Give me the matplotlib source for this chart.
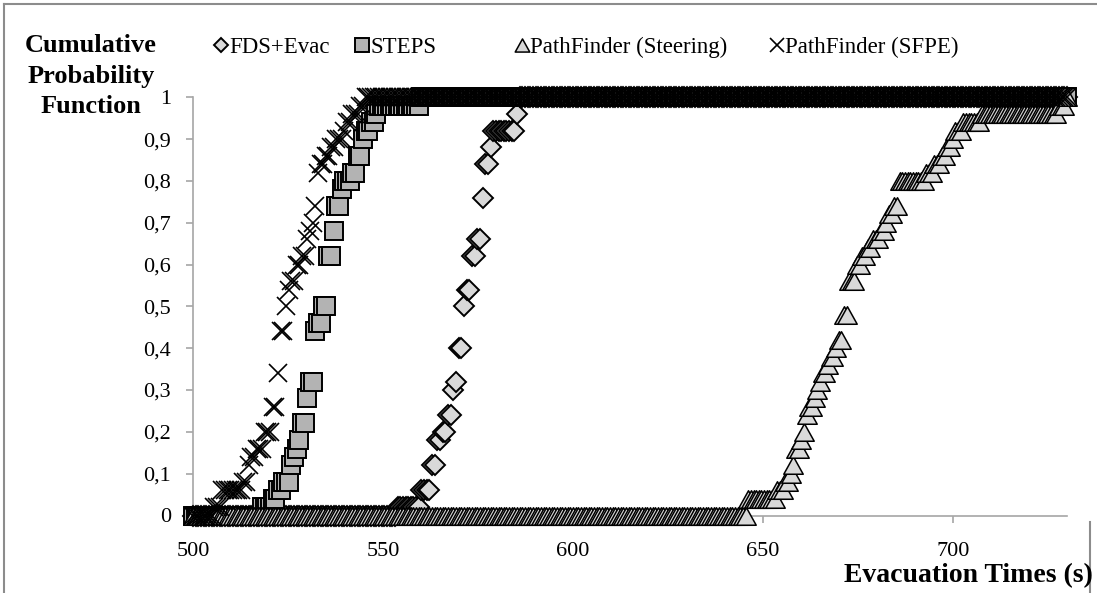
import numpy as np
import matplotlib.pyplot as plt
from matplotlib.path import Path
from matplotlib.lines import Line2D

plt.rcParams['font.family'] = ['Liberation Serif', 'DejaVu Serif']

# Values: the time (s) at which each curve steps up,
# and the cumulative probability it holds from that time on.
fds_t = [553.3, 559.8, 562.3, 564.0, 565.6, 566.6, 567.9, 568.7, 569.8, 570.9,
         571.8, 573.0, 574.5, 575.9, 576.8, 578.0, 578.5, 584.9, 585.6]
fds_p = [0.02, 0.06, 0.12, 0.18, 0.20, 0.24, 0.30, 0.32, 0.40, 0.50,
         0.54, 0.62, 0.66, 0.76, 0.84, 0.88, 0.92, 0.96, 1.00]

steps_t = [517.5, 520.3, 521.8, 523.3, 525.3, 526.3, 527.1, 527.6, 528.5, 529.4,
           530.3, 531.8, 532.7, 533.8, 535.3, 536.6, 537.7, 538.8, 539.7, 541.7,
           542.8, 544.5, 545.4, 546.3, 548.0, 548.9, 559.5]
steps_p = [0.02, 0.04, 0.06, 0.08, 0.12, 0.14, 0.16, 0.18, 0.22, 0.28,
           0.32, 0.44, 0.46, 0.50, 0.62, 0.68, 0.74, 0.78, 0.80, 0.82,
           0.86, 0.90, 0.92, 0.94, 0.96, 0.98, 1.00]

steer_t = [645.5, 653.3, 655.5, 656.8, 657.6, 658.6, 659.4, 660.2, 661.2, 662.1,
           663.0, 663.8, 664.7, 665.6, 666.5, 667.3, 668.6, 669.5, 670.8, 672.2,
           674.6, 675.9, 677.3, 678.5, 680.8, 681.8, 683.0, 684.3, 685.7, 692.7,
           694.4, 696.6, 698.4, 699.7, 700.6, 702.3, 707.6, 727.8, 729.9]
steer_p = [0.04, 0.06, 0.08, 0.10, 0.12, 0.16, 0.18, 0.20, 0.24, 0.26,
           0.28, 0.30, 0.32, 0.34, 0.36, 0.38, 0.40, 0.42, 0.48, 0.56,
           0.60, 0.62, 0.64, 0.66, 0.68, 0.70, 0.72, 0.74, 0.80, 0.82,
           0.84, 0.86, 0.88, 0.90, 0.92, 0.94, 0.96, 0.98, 1.00]

sfpe_t = [505.5, 507.0, 512.7, 514.0, 515.3, 516.6, 518.3, 520.8, 521.8, 522.8,
          523.8, 524.7, 525.6, 526.9, 528.2, 529.5, 530.4, 531.2, 531.8, 532.7,
          533.5, 534.3, 536.0, 537.4, 539.2, 540.5, 541.8, 543.5, 544.8]
sfpe_p = [0.02, 0.06, 0.08, 0.12, 0.14, 0.16, 0.20, 0.26, 0.34, 0.44,
          0.50, 0.54, 0.56, 0.60, 0.62, 0.66, 0.68, 0.70, 0.74, 0.82,
          0.84, 0.86, 0.88, 0.90, 0.92, 0.94, 0.96, 0.98, 1.00]

labels = ['FDS+Evac', 'STEPS', 'PathFinder (Steering)', 'PathFinder (SFPE)']
x_ticks = [500, 550, 600, 650, 700]
y_ticks = [0, 0.1, 0.2, 0.3, 0.4, 0.5, 0.6, 0.7, 0.8, 0.9, 1]
y_ticklabels = ['0', '0,1', '0,2', '0,3', '0,4', '0,5', '0,6', '0,7', '0,8', '0,9', '1']

# the curves are sampled on a regular time grid
t_grid = np.linspace(500, 730, 330)


def cdf_on_grid(t_steps, p_steps, grid):
    idx = np.searchsorted(t_steps, grid, side='right') - 1
    vals = np.asarray(p_steps)[np.clip(idx, 0, None)]
    return np.where(idx >= 0, vals, 0.0)


tri = Path([(0, 0.9), (-1, -0.9), (1, -0.9), (0, 0.9)],
           [Path.MOVETO, Path.LINETO, Path.LINETO, Path.CLOSEPOLY])

styles = [
    dict(marker='D', ms=10, mfc='#d9d9d9', mec='black', mew=1.4),
    dict(marker='s', ms=12.5, mfc='#b3b3b3', mec='black', mew=1.4),
    dict(marker=tri, ms=14, mfc='#d9d9d9', mec='black', mew=1.1),
    dict(marker='x', ms=12.5, mfc='none', mec='black', mew=1.2),
]
series = [(fds_t, fds_p), (steps_t, steps_p), (steer_t, steer_p), (sfpe_t, sfpe_p)]

W, H = 1097, 593
fig = plt.figure(figsize=(W / 100, H / 100), dpi=100)
ax = fig.add_axes([193 / W, 77.5 / H, (1067 - 193) / W, (515.5 - 97.3) / H])

for i, ((ts, ps), st) in enumerate(zip(series, styles)):
    y = cdf_on_grid(ts, ps, t_grid)
    ax.plot(t_grid, y, ls='none', clip_on=False, zorder=3 + i, **st)

ax.set_xlim(500, 730)
ax.set_ylim(0, 1)
ax.set_xticks(x_ticks)
ax.set_yticks(y_ticks)
ax.set_yticklabels(y_ticklabels)
for s in ['top', 'right']:
    ax.spines[s].set_visible(False)
for s in ['left', 'bottom']:
    ax.spines[s].set_color('#a6a6a6')
    ax.spines[s].set_linewidth(1.2)
ax.tick_params(colors='#a6a6a6', length=5, width=1.2, labelcolor='black',
               labelsize=16, direction='out')
ax.tick_params(axis='x', pad=14)
ax.tick_params(axis='y', pad=11)

# legend entries placed one by one (marker centre x in pixels)
legend_y = 1 - 45 / H
legend_marker_x = [221, 362, 522, 777]
for lx, lab, st in zip(legend_marker_x, labels, styles):
    st_small = dict(st)
    st_small['ms'] = st['ms'] * 0.75
    fig.add_artist(Line2D([lx / W], [legend_y], ls='none', transform=fig.transFigure, **st_small))
    fig.text((lx + 8) / W, legend_y, lab, ha='left', va='center_baseline', fontsize=16.5)

fig.text(91 / W, 1 - 76 / H, 'Cumulative\nProbability\nFunction',
         ha='center', va='center', fontweight='bold', fontsize=19, linespacing=1.4)
fig.text(1093 / W, 1 - 576 / H, 'Evacuation Times (s)',
         ha='right', va='center', fontweight='bold', fontsize=20)

# chart area border: top and left edges, short right edge at the bottom
border = dict(color='#8c8c8c', lw=1.5, transform=fig.transFigure)
fig.add_artist(Line2D([4 / W, 1], [1 - 4 / H, 1 - 4 / H], **border))
fig.add_artist(Line2D([4 / W, 4 / W], [0, 1 - 4 / H], **border))
fig.add_artist(Line2D([1090 / W, 1090 / W], [0, 1 - 522 / H], **border))

fig.savefig('out.png', dpi=100)
